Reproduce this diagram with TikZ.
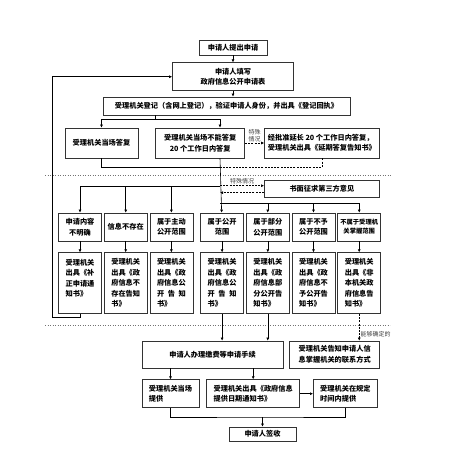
\documentclass[tikz,border=0pt]{standalone}
\usepackage{fontspec}
\setmainfont{Noto Sans CJK SC}
\usetikzlibrary{positioning,arrows.meta}

\begin{document}
\begin{tikzpicture}[x=1pt,y=-1pt,>={Latex[length=3pt,width=3pt]},line width=.6pt,
    box/.style={draw=black!80,line width=.7pt,inner sep=2pt,align=center,
        font=\fontsize{7.2}{10.5}\selectfont\bfseries},
    cell/.style={box,minimum width=43pt,minimum height=28pt},
    tall/.style={box,align=left,minimum width=43pt,minimum height=61pt},
    hint/.style={font=\fontsize{6}{6.5}\selectfont,text=black!75,inner sep=1pt,align=center},
    special/.style={dash pattern=on 2pt off 1.2pt},
    sep/.style={dotted,black!55,line width=.5pt}]
    \useasboundingbox (0,0) rectangle (460,463);
    % application
    \node[box,minimum width=68pt,minimum height=15pt] (start) at (233,47.5) {申请人提出申请};
    \node[box,minimum width=121pt,minimum height=28pt,below=7pt of start] (form) {申请人填写\\政府信息公开申请表};
    \node[box,minimum width=247pt,minimum height=18pt] (reg) at (226.5,106) {受理机关登记（含网上登记），验证申请人身份，并出具《登记回执》};
    \node[box,minimum width=73pt,minimum height=30pt] (reply) at (101.5,143) {受理机关当场答复};
    \node[box,minimum width=89pt,minimum height=30pt,right=17pt of reply] (later) {受理机关当场不能答复\\20 个工作日内答复};
    \node[box,align=left,minimum width=115pt,minimum height=30pt,right=19pt of later] (extend) {经批准延长 20 个工作日内答复，\\受理机关出具《延期答复告知书》};
    \node[box,minimum width=115pt,minimum height=17pt,below=22pt of extend] (third) {书面征求第三方意见};
    % cases
    \node[cell] (case1) at (80,227) {申请内容\\不明确};
    \node[cell,right=2pt of case1] (case2) {信息不存在};
    \node[cell,right=2pt of case2] (case3) {属于主动\\公开范围};
    \node[cell,right=7pt of case3] (case4) {属于公开\\范围};
    \node[cell,right=2pt of case4] (case5) {属于部分\\公开范围};
    \node[cell,right=2pt of case5] (case6) {属于不予\\公开范围};
    \node[cell,right=2pt of case6,font=\fontsize{6.3}{9}\selectfont\bfseries] (case7) {不属于受理机\\关掌握范围};
    % notices
    \node[tall,below=11pt of case1] (doc1) {受理机关\\出具《补\\正申请通\\知书》\\\mbox{}};
    \node[tall,below=11pt of case2] (doc2) {受理机关\\出具《政\\府信息不\\存在告知\\书》};
    \node[tall,below=11pt of case3] (doc3) {受理机关\\出具《政\\府信息公\\开\hspace{.5em}告\hspace{.5em}知\\书》};
    \node[tall,below=11pt of case4] (doc4) {受理机关\\出具《政\\府信息公\\开\hspace{.5em}告\hspace{.5em}知\\书》};
    \node[tall,below=11pt of case5] (doc5) {受理机关\\出具《政\\府信息部\\分公开告\\知书》};
    \node[tall,below=11pt of case6] (doc6) {受理机关\\出具《政\\府信息不\\予公开告\\知书》};
    \node[tall,below=11pt of case7] (doc7) {受理机关\\出具《非\\本机关政\\府信息告\\知书》};
    % delivery
    \node[box,minimum width=141pt,minimum height=27pt] (pay) at (212.5,354.5) {申请人办理缴费等申请手续};
    \node[box,minimum width=90pt,minimum height=27pt,right=6pt of pay] (contact) {受理机关告知申请人信\\息掌握机关的联系方式};
    \node[box,align=left,minimum width=57pt,minimum height=28pt,below right=11pt and 0pt of pay.south west] (onsite) {受理机关当场\\提供};
    \node[box,align=left,minimum width=93pt,minimum height=28pt,right=7pt of onsite] (notice) {受理机关出具《政府信息\\提供日期通知书》};
    \node[box,align=left,minimum width=64pt,minimum height=28pt,right=13pt of notice] (ontime) {受理机关在规定\\时间内提供};
    \node[box,minimum width=67pt,minimum height=14pt] (receipt) at (262.5,434) {申请人签收};
    % junctions
    \coordinate (fork) at (155,119);
    \coordinate (merge) at (220,167);
    \coordinate (lfork) at (220,186);
    \coordinate (rfork) at (220,203);
    \coordinate (back) at (52,317);
    \coordinate (join) at (262.5,417);
    \coordinate (ask) at ([yshift=3.5pt]third.west);
    \coordinate (answer) at ([yshift=-3.5pt]third.west);
    \draw[sep] (45,175) -- (392,175);
    \draw[sep] (45,325) -- (390,325);
    \draw[->] (start) -- (form);
    \draw[->] (form) -- (form |- reg.north);
    \draw (reg.south -| fork) -- (fork);
    \draw[->] (fork) -| (reply);
    \draw[->] (fork) -| (later.north -| merge);
    \draw (reply) |- (merge);
    \draw[special] (extend) |- (merge);
    \draw[special,->] (later) -- node[hint,above] {特殊\\情况} (extend);
    \draw[->] (later.south -| merge) -- (case4);
    \draw[special,->] (ask -| merge) -- node[hint,above] {特殊情况} (ask);
    \draw[special,->] (answer) -- (answer -| merge);
    \draw[->] (lfork) -| (case1);
    \draw[->] (case2 |- lfork) -- (case2);
    \draw[->] (case3 |- lfork) -- (case3);
    \draw[->] (rfork) -| (case7);
    \draw[->] (case5 |- rfork) -- (case5);
    \draw[->] (case6 |- rfork) -- (case6);
    \draw[->] (case1) edge (doc1) (case2) edge (doc2) (case3) edge (doc3)
        (case4) edge (doc4) (case5) edge (doc5) (case6) edge (doc6) (case7) edge (doc7);
    \draw[->] (doc1) |- (back) |- (form);
    \draw[->] (doc4) -- (doc4 |- pay.north);
    \draw[->] (doc5) -- (doc5 |- pay.north);
    \draw[special,->] (doc7) -- node[hint,right,pos=.75] {能够确定的} (doc7 |- contact.north);
    \draw[->] (pay.south -| onsite) -- (onsite);
    \draw[->] (pay.south -| notice) -- (notice);
    \draw[->] (notice) -- (ontime);
    \draw (onsite) |- (join) -| (ontime);
    \draw[->] (join) -- (receipt);
\end{tikzpicture}
\end{document}
